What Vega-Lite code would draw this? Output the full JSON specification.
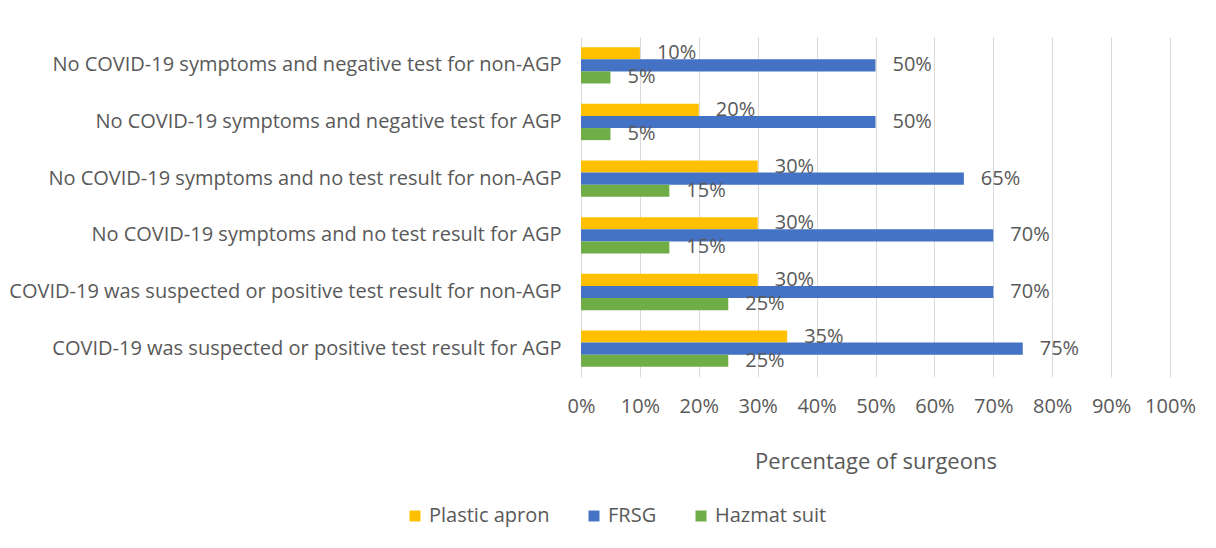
{
  "$schema": "https://vega.github.io/schema/vega-lite/v6.json",
  "width": 589,
  "height": 340,
  "autosize": "none",
  "padding": {"left": 581, "top": 37, "right": 46, "bottom": 171},
  "background": "white",
  "config": {"view": {"stroke": null}, "font": "Open Sans"},
  "data": {
    "values": [
      {"scenario": "No COVID-19 symptoms and negative test for non-AGP", "ppe": "Plastic apron", "pct": 0.10},
      {"scenario": "No COVID-19 symptoms and negative test for non-AGP", "ppe": "FRSG", "pct": 0.50},
      {"scenario": "No COVID-19 symptoms and negative test for non-AGP", "ppe": "Hazmat suit", "pct": 0.05},
      {"scenario": "No COVID-19 symptoms and negative test  for AGP", "ppe": "Plastic apron", "pct": 0.20},
      {"scenario": "No COVID-19 symptoms and negative test  for AGP", "ppe": "FRSG", "pct": 0.50},
      {"scenario": "No COVID-19 symptoms and negative test  for AGP", "ppe": "Hazmat suit", "pct": 0.05},
      {"scenario": "No COVID-19 symptoms and no test result  for non-AGP", "ppe": "Plastic apron", "pct": 0.30},
      {"scenario": "No COVID-19 symptoms and no test result  for non-AGP", "ppe": "FRSG", "pct": 0.65},
      {"scenario": "No COVID-19 symptoms and no test result  for non-AGP", "ppe": "Hazmat suit", "pct": 0.15},
      {"scenario": "No COVID-19 symptoms and no test result  for AGP", "ppe": "Plastic apron", "pct": 0.30},
      {"scenario": "No COVID-19 symptoms and no test result  for AGP", "ppe": "FRSG", "pct": 0.70},
      {"scenario": "No COVID-19 symptoms and no test result  for AGP", "ppe": "Hazmat suit", "pct": 0.15},
      {"scenario": "COVID-19 was suspected or positive test result for non-AGP", "ppe": "Plastic apron", "pct": 0.30},
      {"scenario": "COVID-19 was suspected or positive test result for non-AGP", "ppe": "FRSG", "pct": 0.70},
      {"scenario": "COVID-19 was suspected or positive test result for non-AGP", "ppe": "Hazmat suit", "pct": 0.25},
      {"scenario": "COVID-19 was suspected or positive test result for AGP", "ppe": "Plastic apron", "pct": 0.35},
      {"scenario": "COVID-19 was suspected or positive test result for AGP", "ppe": "FRSG", "pct": 0.75},
      {"scenario": "COVID-19 was suspected or positive test result for AGP", "ppe": "Hazmat suit", "pct": 0.25}
    ]
  },
  "encoding": {
    "y": {
      "field": "scenario",
      "type": "nominal",
      "sort": null,
      "title": null,
      "scale": {"paddingInner": 0.36, "paddingOuter": 0.18},
      "axis": {
        "labelFontSize": 20,
        "labelColor": "#595959",
        "labelLimit": 0,
        "ticks": false,
        "domain": false,
        "grid": false,
        "labelPadding": 20
      }
    },
    "yOffset": {
      "field": "ppe",
      "type": "nominal",
      "sort": ["Plastic apron", "FRSG", "Hazmat suit"],
      "scale": {"paddingInner": 0, "paddingOuter": 0}
    },
    "x": {
      "field": "pct",
      "type": "quantitative",
      "scale": {"domain": [0, 1]},
      "axis": {
        "values": [0, 0.1, 0.2, 0.3, 0.4, 0.5, 0.6, 0.7, 0.8, 0.9, 1],
        "format": ".0%",
        "labelOverlap": false,
        "labelFlush": false,
        "grid": true,
        "gridColor": "#d9d9d9",
        "domain": false,
        "ticks": false,
        "labelPadding": 19,
        "labelFontSize": 20,
        "labelColor": "#595959",
        "title": "Percentage of surgeons",
        "titleFontSize": 22,
        "titleFontWeight": "normal",
        "titleColor": "#595959",
        "titlePadding": 35
      }
    }
  },
  "layer": [
    {
      "mark": {"type": "bar"},
      "encoding": {
        "color": {
          "field": "ppe",
          "type": "nominal",
          "sort": ["Plastic apron", "FRSG", "Hazmat suit"],
          "scale": {"domain": ["Plastic apron", "FRSG", "Hazmat suit"], "range": ["#FFC000", "#4472C4", "#70AD47"]},
          "legend": {
            "title": null,
            "orient": "none",
            "direction": "horizontal",
            "legendX": -176,
            "legendY": 469,
            "symbolType": "square",
            "symbolSize": 120,
            "symbolStrokeWidth": 0,
            "labelFontSize": 20,
            "labelColor": "#595959",
            "columnPadding": 34
          }
        }
      }
    },
    {
      "mark": {"type": "text", "align": "left", "baseline": "middle", "dx": 17, "fontSize": 20, "color": "#595959"},
      "encoding": {
        "text": {"field": "pct", "type": "quantitative", "format": ".0%"}
      }
    }
  ]
}
